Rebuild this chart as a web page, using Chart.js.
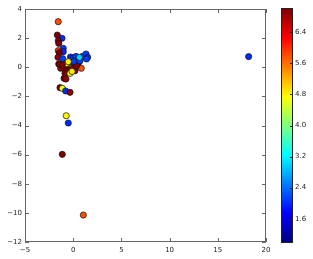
<!DOCTYPE html>
<html>
<head>
<meta charset="utf-8">
<script src="https://cdn.jsdelivr.net/npm/chart.js@4/dist/chart.umd.min.js"></script>
<style>
    html, body { margin: 0; padding: 0; background: #fff; }
    canvas { display: block; }
</style>
</head>
<body>
<canvas id="scatter-chart" width="313" height="259"></canvas>
<script>
// points
const x_values = [-1.55, -1.65, -1.16, -1.55, -1.50, -1.03, -1.03, -1.55, -1.44, -1.58,
                  -1.09, -1.50, -1.30, -0.28, 0.03, 0.29, 0.50, 0.96, 1.33, 1.50,
                  1.38, 0.84, -1.37, -1.03, -0.67, -0.51, -0.16, 0.19, 0.53, -0.26,
                  -0.51, 0.01, -0.78, 0.19, -0.85, -0.33, -0.12, 0.34, -0.95, -0.75,
                  -1.37, -1.13, -0.78, -0.33, -0.72, -0.51, -1.13, 1.05, 18.2, 0.08,
                  -0.51, 0.70, 0.65];
const y_values = [3.13, 2.21, 1.99, 1.82, 1.64, 1.30, 1.07, 1.14, 1.00, 0.68,
                  0.59, 0.22, -0.07, 0.70, 0.64, 0.74, 0.53, 0.74, 0.91, 0.68,
                  0.57, -0.07, 0.22, 0.15, 0.27, 0.15, 0.27, 0.27, 0.27, -0.07,
                  -0.14, -0.07, -0.24, -0.24, -0.42, -0.42, -0.29, 0.09, -0.76, -0.81,
                  -1.40, -1.45, -1.63, -1.72, -3.33, -3.83, -5.98, -10.15, 0.73, 0.40,
                  0.38, 0.43, 0.68];
const c_values = [5.8, 7.0, 2.0, 6.9, 7.0, 2.1, 2.0, 5.9, 7.0, 6.9,
                  2.1, 7.0, 6.9, 2.0, 2.1, 2.1, 2.0, 2.0, 2.1, 2.0,
                  2.1, 5.8, 7.0, 6.9, 7.0, 4.7, 7.0, 6.9, 7.0, 4.8,
                  7.0, 6.9, 7.0, 7.0, 7.0, 4.7, 4.9, 7.0, 7.0, 6.9,
                  7.0, 4.6, 2.0, 6.9, 4.8, 2.0, 7.0, 5.8, 2.0, 2.1,
                  4.8, 2.1, 3.0];

const x_ticks = [-5, 0, 5, 10, 15, 20];
const y_ticks = [-12, -10, -8, -6, -4, -2, 0, 2, 4];
const cb_ticks = [1.6, 2.4, 3.2, 4.0, 4.8, 5.6, 6.4];
const c_min = 1.0;
const c_max = 7.0;

const tick_font = { family: "DejaVu Sans", size: 7 };
const text_color = "#222";
const frame_color = "#666";

function clamp(v) {
    return Math.max(0, Math.min(1, v));
}

// matplotlib style jet colormap
function jet(value) {
    const t = (value - c_min) / (c_max - c_min);
    const r = clamp(1.5 - Math.abs(4 * t - 3));
    const g = clamp(1.5 - Math.abs(4 * t - 2));
    const b = clamp(1.5 - Math.abs(4 * t - 1));
    return `rgb(${Math.round(r * 255)},${Math.round(g * 255)},${Math.round(b * 255)})`;
}

function fmt(v) {
    return String(v).replace("-", "\u2212");
}

function set_ticks(list) {
    return scale => { scale.ticks = list.map(v => ({ value: v })); };
}

const frame_plugin = {
    id: "frame_and_colorbar",
    afterDatasetsDraw(chart) {
        const ctx = chart.ctx;
        const area = chart.chartArea;
        const xs = chart.scales.x;
        const ys = chart.scales.y;
        const cb = chart.scales.cb;

        ctx.save();
        ctx.strokeStyle = frame_color;
        ctx.lineWidth = 1;
        ctx.strokeRect(area.left + 0.5, area.top + 0.5, area.right - area.left - 1, area.bottom - area.top - 1);

        // inward ticks on all four sides
        ctx.beginPath();
        x_ticks.forEach(v => {
            const px = Math.round(xs.getPixelForValue(v)) + 0.5;
            ctx.moveTo(px, area.bottom);
            ctx.lineTo(px, area.bottom - 4);
            ctx.moveTo(px, area.top);
            ctx.lineTo(px, area.top + 4);
        });
        y_ticks.forEach(v => {
            const py = Math.round(ys.getPixelForValue(v)) + 0.5;
            ctx.moveTo(area.left, py);
            ctx.lineTo(area.left + 4, py);
            ctx.moveTo(area.right, py);
            ctx.lineTo(area.right - 4, py);
        });
        ctx.stroke();

        // colorbar
        const bar_left = 281;
        const bar_right = 293;
        const top = Math.round(cb.getPixelForValue(c_max)) - 1;
        const bottom = Math.round(cb.getPixelForValue(c_min)) + 1;
        for (let py = top; py < bottom; py++) {
            ctx.fillStyle = jet(cb.getValueForPixel(py + 0.5));
            ctx.fillRect(bar_left, py, bar_right - bar_left, 1);
        }
        ctx.strokeStyle = "#222";
        ctx.strokeRect(bar_left + 0.5, top + 0.5, bar_right - bar_left - 1, bottom - top - 1);
        ctx.beginPath();
        cb_ticks.forEach(v => {
            const py = Math.round(cb.getPixelForValue(v)) + 0.5;
            ctx.moveTo(bar_right, py);
            ctx.lineTo(bar_right - 3, py);
        });
        ctx.stroke();
        ctx.restore();
    }
};

new Chart(document.getElementById("scatter-chart"), {
    type: "scatter",
    data: {
        datasets: [{
            data: x_values.map((x, i) => ({ x: x, y: y_values[i] })),
            backgroundColor: c_values.map(jet),
            borderColor: "#111",
            borderWidth: 0.7,
            pointRadius: 3.1
        }]
    },
    options: {
        responsive: false,
        animation: false,
        layout: { padding: { top: 9, left: 0, right: 0, bottom: 0 } },
        plugins: {
            legend: { display: false },
            tooltip: { enabled: false }
        },
        scales: {
            x: {
                type: "linear",
                min: -5,
                max: 20,
                // tick marks hidden, tickLength only shifts the labels
                grid: { display: false, drawTicks: true, tickLength: 4 },
                border: { display: false },
                ticks: { font: tick_font, color: text_color, padding: 0, maxRotation: 0, autoSkip: false, callback: fmt },
                afterBuildTicks: set_ticks(x_ticks),
                afterFit: scale => { scale.height = 17; }
            },
            y: {
                type: "linear",
                min: -12,
                max: 4,
                grid: { display: false, drawTicks: true, tickLength: 3 },
                border: { display: false },
                ticks: { font: tick_font, color: text_color, padding: 0, autoSkip: false, callback: fmt },
                afterBuildTicks: set_ticks(y_ticks),
                afterFit: scale => { scale.width = 25; }
            },
            cb: {
                type: "linear",
                position: "right",
                min: c_min,
                max: c_max,
                grid: { display: false, drawTicks: true, tickLength: 29 },
                border: { display: false },
                ticks: { font: tick_font, color: text_color, padding: 0, autoSkip: false, callback: v => v.toFixed(1) },
                afterBuildTicks: set_ticks(cb_ticks),
                afterFit: scale => { scale.width = 47; }
            }
        }
    },
    plugins: [frame_plugin]
});
</script>
</body>
</html>
